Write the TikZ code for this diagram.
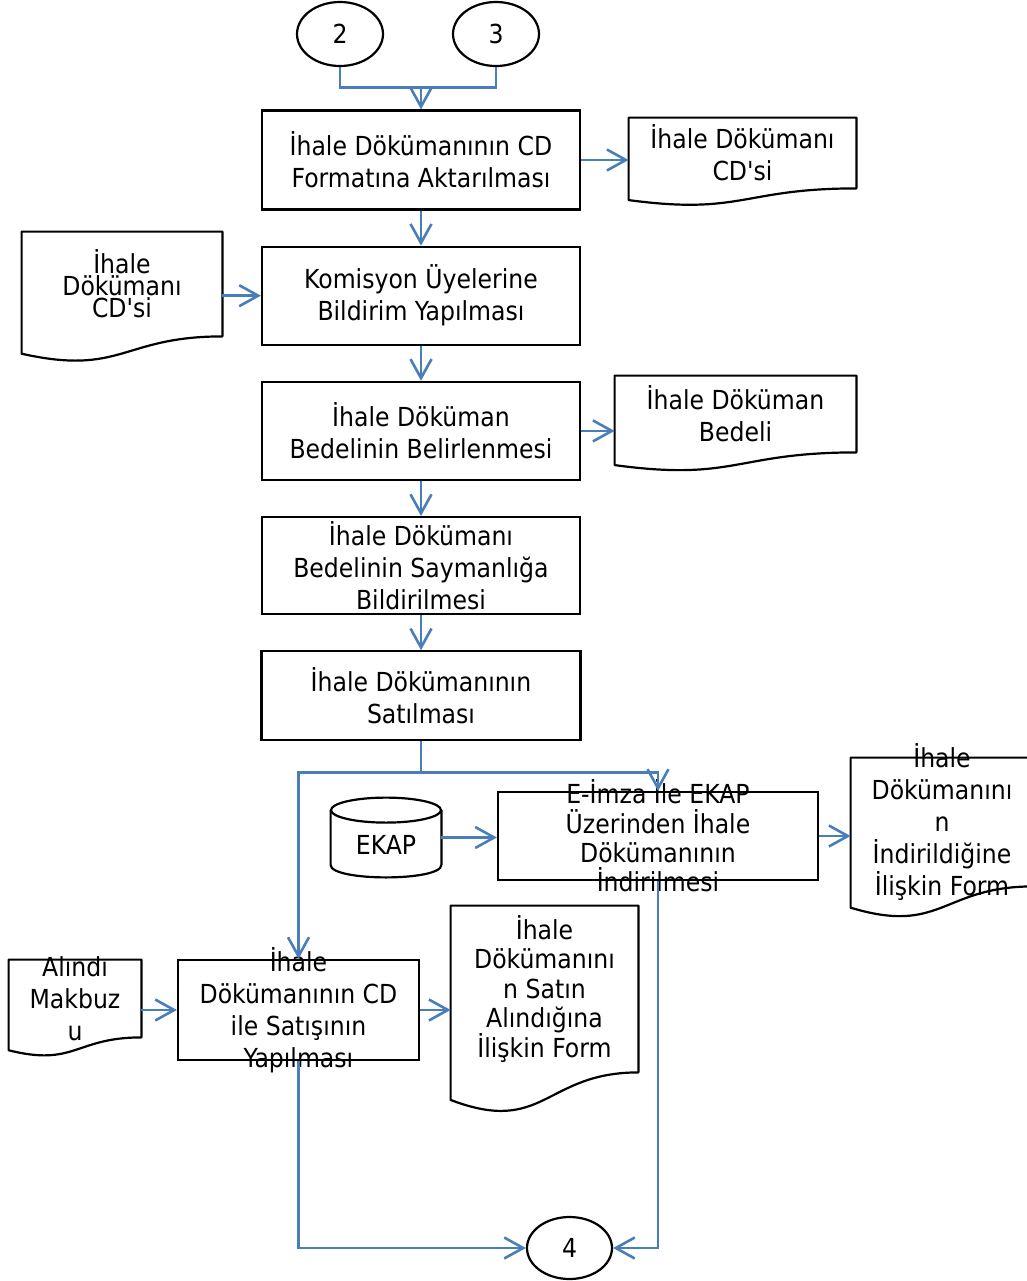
\documentclass[tikz,border=0pt]{standalone}
\usepackage{fontspec}
\setmainfont{DejaVu Sans Condensed}
\usepackage{tikz}
\usetikzlibrary{shapes.geometric}
\usetikzlibrary{arrows.meta,positioning,calc}
\definecolor{flowblue}{RGB}{74,126,187}
\tikzstyle{procbox}=[rectangle, draw=black, line width=1.1pt, inner sep=0pt, align=center]
\tikzstyle{docbox}=[rectangle, inner sep=0pt, align=center]
\tikzstyle{conn}=[ellipse, draw=black, line width=1.1pt, inner sep=0pt, minimum width=43pt, minimum height=32pt]
\tikzstyle{dbase}=[rectangle, inner sep=0pt, minimum width=55pt, minimum height=39.5pt]
\tikzstyle{txt}=[inner sep=0pt, align=center]
\tikzstyle{docline}=[draw=black, line width=1.1pt, line join=round]
\tikzstyle{flow}=[draw=flowblue, line width=1.3pt]
\tikzstyle{flowto}=[flow, -{Straight Barb[length=9.5pt,width=10.5pt]}]
% document shape: node is the upper part, wave hangs below it
\newcommand{\docwave}[1]{%
  \draw[docline] (#1.north west) -- (#1.north east) -- (#1.south east)
    .. controls (#1.south) and ($(#1.south)!-0.38!(#1.north)$)
    .. ($(#1.south west)!-0.165!(#1.north west)$) -- cycle;}
% drum shape round a node
\newcommand{\drum}[1]{%
  \draw[docline] ([yshift=-6.25pt]#1.north west) -- ([yshift=6.25pt]#1.south west)
    .. controls ([yshift=-2.08pt]#1.south west) and ([yshift=-2.08pt]#1.south east)
    .. ([yshift=6.25pt]#1.south east) -- ([yshift=-6.25pt]#1.north east);
  \draw[docline] ([yshift=-6.25pt]#1.north) ellipse [x radius=27.5pt, y radius=6.25pt];}

\begin{document}
\begin{tikzpicture}
[x=0.5pt, y=-0.5pt, font=\fontsize{13.1}{16}\selectfont, node distance=17.5pt]
\useasboundingbox (0,0) rectangle (1027,1281);
% main column
\node[conn] (c2) at (340,34) {2};
\node[conn] (c3) at (496,34) {3};
\node[procbox, minimum width=159pt, minimum height=49.5pt] (format) at (421,160) {İhale Dökümanının CD\\Formatına Aktarılması};
\node[procbox, minimum width=159pt, minimum height=49pt] (bildirim) [below=of format] {Komisyon Üyelerine\\Bildirim Yapılması};
\node[procbox, minimum width=159pt, minimum height=49pt] (belirle) [below=of bildirim] {İhale Döküman\\Bedelinin Belirlenmesi};
\node[procbox, minimum width=159pt, minimum height=48.5pt] (sayman) [below=of belirle] {İhale Dökümanı\\Bedelinin Saymanlığa\\Bildirilmesi};
\node[procbox, minimum width=159.5pt, minimum height=44.5pt] (satilma) [below=of sayman] {İhale Dökümanının\\Satılması};
% documents
\node[docbox, minimum width=113.5pt, minimum height=35pt] (cdsir) at (742.5,153) {İhale Dökümanı\\CD\textquotesingle si};
\node[docbox, minimum width=100pt, minimum height=52pt, font=\fontsize{13.1}{11}\selectfont] (cdsil) at (122,284) {İhale\\Dökümanı\\CD\textquotesingle si};
\node[docbox, minimum width=120.5pt, minimum height=38pt] (bedel) at (735.5,414) {İhale Döküman\\Bedeli};
\docwave{cdsir}
\docwave{cdsil}
\docwave{bedel}
% two branches
\node[dbase] (ekap) at (386,837.5) {};
\drum{ekap}
\node[txt] (ekaptxt) at (386,845) {EKAP};
\node[procbox, minimum width=160pt, minimum height=44pt] (indir) at (658,836) {};
\node[txt, font=\fontsize{13.1}{14.7}\selectfont] (indirtxt) at (indir) {E-İmza İle EKAP\\Üzerinden İhale\\Dökümanının\\İndirilmesi};
\node[docbox, minimum width=91pt, minimum height=64pt] (indirform) at (942,822) {};
\docwave{indirform}
\node[txt] (indirformtxt) at (indirform) {İhale\\Dökümanını\\n\\İndirildiğine\\İlişkin Form};
\node[procbox, minimum width=120.5pt, minimum height=50pt] (cdsat) at (298.5,1010) {};
\node[txt] (cdsattxt) at (cdsat) {İhale\\Dökümanının CD\\ile Satışının\\Yapılması};
\node[docbox, minimum width=66pt, minimum height=38.5pt] (makbuz) at (75,998.5) {};
\docwave{makbuz}
\node[txt] (makbuztxt) at (makbuz) {Alındı\\Makbuz\\u};
\node[docbox, minimum width=93.5pt, minimum height=83pt, font=\fontsize{13.1}{14.75}\selectfont] (satinform) at (544.5,989) {İhale\\Dökümanını\\n Satın\\Alındığına\\İlişkin Form};
\docwave{satinform}
\node[conn, minimum width=42.5pt, minimum height=31pt] (c4) at (569.5,1248) {4};
% connectors
\coordinate (j1) at ($(format.north)+(0,-22)$);
\coordinate (j2) at ($(satilma.south)+(0,31)$);
\draw[flow] (c2.south) |- (j1) -| (c3.south);
\draw[flowto] (j1) -- (format.north);
\draw[flowto] (format.east) -- (format.east -| cdsir.west);
\draw[flowto] (format) -- (bildirim);
\draw[flowto] (cdsil.east |- bildirim) -- (bildirim.west);
\draw[flowto] (bildirim) -- (belirle);
\draw[flowto] (belirle.east) -- (belirle.east -| bedel.west);
\draw[flowto] (belirle) -- (sayman);
\draw[flowto] (sayman) -- (satilma);
\draw[flow] (satilma.south) -- (j2);
\draw[flowto] (j2) -| (indir.north);
\draw[flowto] (j2) -| (cdsat.north);
\draw[flowto] (ekap.east) -- (ekap.east -| indir.west);
\draw[flowto] (indir.east) -- (indir.east -| indirform.west);
\draw[flowto] (makbuz.east |- cdsat) -- (cdsat.west);
\draw[flowto] (cdsat.east) -- (cdsat.east -| satinform.west);
\draw[flowto] (indir.south) |- (c4.east);
\draw[flowto] (cdsat.south) |- (c4.west);
\end{tikzpicture}
\end{document}
